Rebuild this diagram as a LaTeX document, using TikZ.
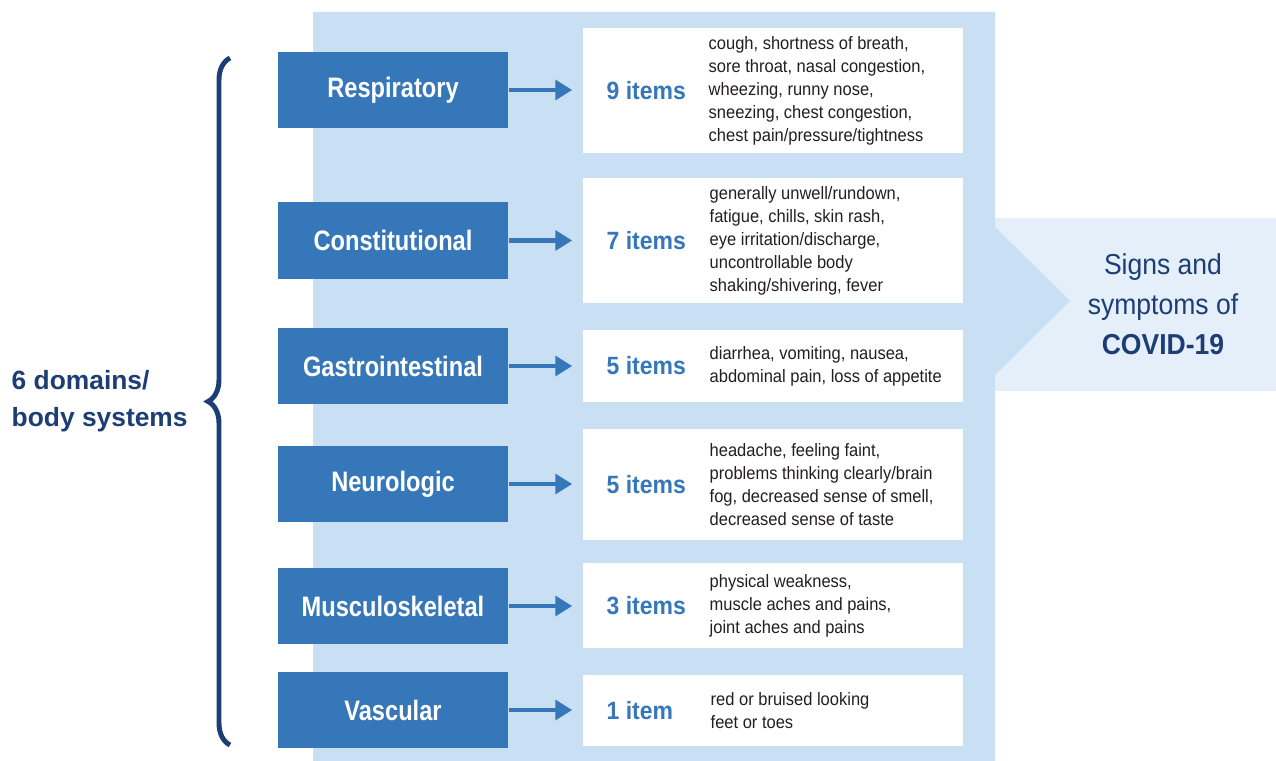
\documentclass[tikz,border=0pt]{standalone}
\usepackage{fontspec}
\setmainfont{Liberation Sans}[FakeStretch=0.92]
\newfontfamily\narrowfont{Liberation Sans}[FakeStretch=0.84]
\newfontfamily\widefont{Liberation Sans}
\usetikzlibrary{arrows.meta,decorations.pathreplacing}
\definecolor{panelblue}{HTML}{C9DFF3}
\definecolor{paleblue}{HTML}{E4EFFA}
\definecolor{boxblue}{HTML}{3677BA}
\definecolor{navy}{HTML}{1D3E75}
\definecolor{textgray}{HTML}{231F20}
\tikzset{
	domainbox/.style={fill=boxblue,text=white,minimum width=2.3cm,minimum height=0.76cm,font=\narrowfont\fontsize{8}{9}\selectfont\bfseries},
	listbox/.style={fill=white,minimum width=3.8cm},
	itemcount/.style={anchor=west,inner sep=0pt,text=boxblue,font=\fontsize{7.1}{8}\selectfont\bfseries},
	symptoms/.style={anchor=west,inner sep=0pt,align=left,text=textgray,font=\fontsize{5.1}{6.54}\selectfont},
	arrowlink/.style={line width=1.2pt,draw=boxblue,-{Triangle[length=4.8pt,width=5.6pt]},shorten >=0.1cm}
}
\begin{document}
\begin{tikzpicture}[x=0.01cm,y=-0.01cm]
	\useasboundingbox (0,0) rectangle (1276,761);
	\fill[paleblue] (995,218) rectangle (1276,391);
	\fill[panelblue] (313,12) -- (995,12) -- (995,227) -- (1070,301) -- (995,375) -- (995,761) -- (313,761) -- cycle;
	\node[align=center,text=navy,font=\fontsize{8.2}{11.4}\selectfont] (covid) at (1163,304) {Signs and\\symptoms of\\\textbf{COVID-19}};

	\node[domainbox] (resp) at (393,90) {Respiratory};
	\node[listbox,minimum height=1.25cm] (resplist) at (773,90.5) {};
	\node[itemcount] (respn) at (606,90.5) {9 items};
	\node[symptoms] (respsym) at (708,90.5) {cough, shortness of breath,\\sore throat, nasal congestion,\\wheezing, runny nose,\\sneezing, chest congestion,\\chest pain/pressure/tightness};
	\draw[arrowlink] (resp.east) -- (resp.east -| resplist.west);

	\node[domainbox] (const) at (393,240.5) {Constitutional};
	\node[listbox,minimum height=1.25cm] (constlist) at (773,240.5) {};
	\node[itemcount] (constn) at (606,240.5) {7 items};
	\node[symptoms] (constsym) at (709,240.5) {generally unwell/rundown,\\fatigue, chills, skin rash,\\eye irritation/discharge,\\uncontrollable body\\shaking/shivering, fever};
	\draw[arrowlink] (const.east) -- (const.east -| constlist.west);

	\node[domainbox] (gastro) at (393,366) {Gastrointestinal};
	\node[listbox,minimum height=0.72cm] (gastrolist) at (773,366) {};
	\node[itemcount] (gastron) at (606,366) {5 items};
	\node[symptoms] (gastrosym) at (709,366) {diarrhea, vomiting, nausea,\\abdominal pain, loss of appetite};
	\draw[arrowlink] (gastro.east) -- (gastro.east -| gastrolist.west);

	\node[domainbox] (neuro) at (393,484) {Neurologic};
	\node[listbox,minimum height=1.11cm] (neurolist) at (773,484.5) {};
	\node[itemcount] (neuron) at (606,484.5) {5 items};
	\node[symptoms] (neurosym) at (709,484.5) {headache, feeling faint,\\problems thinking clearly/brain\\fog, decreased sense of smell,\\decreased sense of taste};
	\draw[arrowlink] (neuro.east) -- (neuro.east -| neurolist.west);

	\node[domainbox] (musc) at (393,606) {Musculoskeletal};
	\node[listbox,minimum height=0.85cm] (musclist) at (773,605.5) {};
	\node[itemcount] (muscn) at (606,605.5) {3 items};
	\node[symptoms] (muscsym) at (709,605.5) {physical weakness,\\muscle aches and pains,\\joint aches and pains};
	\draw[arrowlink] (musc.east) -- (musc.east -| musclist.west);

	\node[domainbox] (vasc) at (393,710) {Vascular};
	\node[listbox,minimum height=0.71cm] (vasclist) at (773,710.5) {};
	\node[itemcount] (vascn) at (606,710.5) {1 item};
	\node[symptoms] (vascsym) at (710,710.5) {red or bruised looking\\feet or toes};
	\draw[arrowlink] (vasc.east) -- (vasc.east -| vasclist.west);

	\draw[navy,line width=1.4pt,decorate,decoration={brace,amplitude=0.22cm}] (230,745) -- (230,58);
	\node[anchor=west,inner sep=0pt,align=left,text=navy,font=\widefont\fontsize{7.5}{10.5}\selectfont\bfseries] (domains) at (11,401) {6 domains/\\body systems};
\end{tikzpicture}
\end{document}
